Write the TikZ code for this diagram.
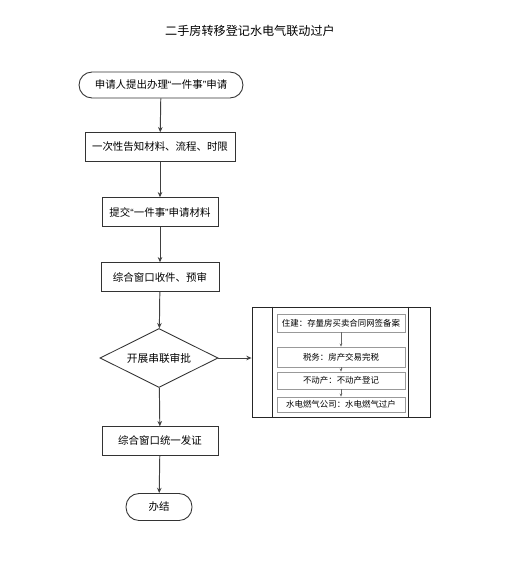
\documentclass[tikz,border=0pt]{standalone}
\usepackage{fontspec}
\setmainfont{Noto Sans CJK SC}
\newfontfamily\quotefont{Liberation Sans}
\newcommand{\quoted}[1]{{\quotefont“}#1{\quotefont”}}
\usetikzlibrary{arrows.meta,shapes.geometric,positioning}
\tikzset{
  step box/.style={draw=black!80,line width=0.5pt,fill=white,inner sep=0pt,
    minimum height=0.57cm,font=\fontsize{5.95}{7}\selectfont},
  end box/.style={step box,rounded corners=0.26cm},
  decision box/.style={diamond,draw=black!80,line width=0.5pt,fill=white,inner sep=0pt,
    aspect=2,minimum width=2.36cm,minimum height=1.18cm,font=\fontsize{6.1}{7}\selectfont},
  group box/.style={draw=black!85,line width=0.5pt,inner sep=0pt,minimum width=3.56cm,minimum height=2.2cm},
  sub box/.style={draw=black!40,line width=0.4pt,fill=white,inner sep=0pt,minimum width=2.56cm,
    font=\fontsize{4.8}{5.5}\selectfont},
  flow line/.style={draw=black!75,line width=0.55pt,-{Stealth[length=3pt,width=2.6pt]}},
  sub line/.style={draw=black!60,line width=0.3pt,-{Stealth[length=1.8pt,width=1.6pt]}},
}

\begin{document}
\begin{tikzpicture}[x=0.02cm,y=-0.02cm]
\useasboundingbox (0,0) rectangle (507,574);
\node[font=\fontsize{6.9}{9}\selectfont] (title) at (250,31) {二手房转移登记水电气联动过户};
% main column
\node[end box,minimum width=3.28cm,minimum height=0.52cm] (apply) at (161,85) {申请人提出办理\quoted{一件事}申请};
\node[step box,minimum width=3.0cm] (inform) at (160,147) {一次性告知材料、流程、时限};
\node[step box,minimum width=2.32cm] (submit) at (160,212) {提交\quoted{一件事}申请材料};
\node[step box,minimum width=2.36cm] (receive) at (160,277) {综合窗口收件、预审};
\node[decision box] (approve) at (159,358) {开展串联审批};
\node[step box,minimum width=2.32cm] (issue) at (160,441) {综合窗口统一发证};
\node[end box,minimum width=1.32cm,minimum height=0.54cm] (finish) at (159,507) {办结};
\foreach \a/\b in {apply/inform, inform/submit, submit/receive, receive/approve, approve/issue, issue/finish} {
  \draw[flow line] (\a) -- (\b);
}
% serial review group
\node[group box] (review) at (341,362) {};
\draw[line width=0.5pt,black!85] ([xshift=0.42cm]review.north west) -- ([xshift=0.42cm]review.south west);
\draw[line width=0.5pt,black!85] ([xshift=-0.44cm]review.north east) -- ([xshift=-0.44cm]review.south east);
\node[sub box,minimum height=0.36cm] (housing) at (341,323) {住建：存量房买卖合同网签备案};
\node[sub box,minimum height=0.4cm] (tax) at (341,357) {税务：房产交易完税};
\node[sub box,minimum height=0.34cm] (estate) at (341,380.5) {不动产：不动产登记};
\node[sub box,minimum height=0.3cm] (utility) at (341,404.5) {水电燃气公司：水电燃气过户};
\foreach \a/\b in {housing/tax, tax/estate, estate/utility} {
  \draw[sub line] (\a) -- (\b);
}
\draw[flow line] (approve.east) -- (approve.east -| review.west);
\end{tikzpicture}
\end{document}
